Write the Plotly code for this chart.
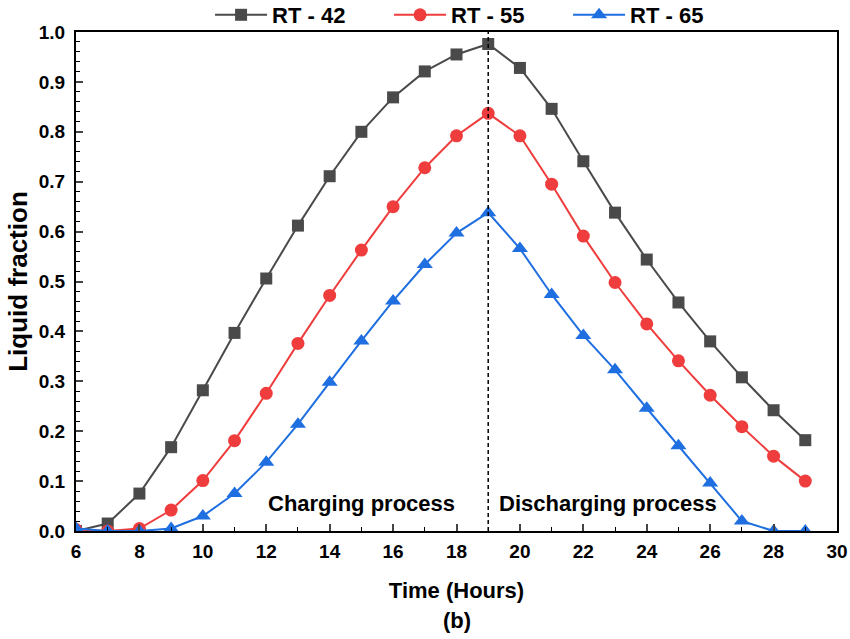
import plotly.graph_objects as go

hours = list(range(6, 30))
rt42 = [0.000, 0.015, 0.075, 0.168, 0.282, 0.397, 0.506, 0.612, 0.711, 0.800, 0.869, 0.921,
        0.955, 0.976, 0.928, 0.846, 0.741, 0.638, 0.544, 0.458, 0.380, 0.308, 0.242, 0.182]
rt55 = [0.003, 0.000, 0.005, 0.042, 0.101, 0.181, 0.276, 0.376, 0.472, 0.563, 0.650, 0.728,
        0.792, 0.837, 0.792, 0.695, 0.591, 0.498, 0.415, 0.341, 0.272, 0.209, 0.150, 0.100]
rt65 = [0.005, 0.000, 0.000, 0.005, 0.030, 0.075, 0.138, 0.214, 0.298, 0.381, 0.461, 0.534,
        0.597, 0.638, 0.566, 0.474, 0.392, 0.323, 0.246, 0.171, 0.096, 0.020, 0.000, 0.000]
series_names = ["RT - 42", "RT - 55", "RT - 65"]
x_ticks = list(range(6, 31, 2))
y_ticks = [round(i * 0.1, 1) for i in range(11)]
peak_hour = 19

FONT = "Liberation Sans, Arial, sans-serif"

fig = go.Figure()
styles = [
    (rt42, "#4a4a4a", "square", 12),
    (rt55, "#ef3d3d", "circle", 13),
    (rt65, "#1f6fe0", "triangle-up", 14),
]
for name, (vals, color, sym, size) in zip(series_names, styles):
    fig.add_trace(go.Scatter(
        x=hours, y=vals, name=name, mode="lines+markers",
        line=dict(color=color, width=2),
        marker=dict(symbol=sym, size=size, color=color),
    ))

fig.add_shape(type="line", x0=peak_hour, x1=peak_hour, y0=0, y1=1, xref="x", yref="y",
              line=dict(color="black", width=1.5, dash="4px,3px"))

fig.add_annotation(x=15.0, y=0.056, xref="x", yref="y", text="Charging process", showarrow=False,
                   font=dict(family=FONT, size=22, color="black", weight="bold"))
fig.add_annotation(x=22.79, y=0.056, xref="x", yref="y", text="Discharging process", showarrow=False,
                   font=dict(family=FONT, size=22, color="black", weight="bold"))
fig.add_annotation(x=0.5, y=0, xref="paper", yref="paper", yshift=-89, text="(b)", showarrow=False,
                   yanchor="middle",
                   font=dict(family=FONT, size=22, color="black", weight="bold"))

fig.update_xaxes(
    range=[6, 30], tickvals=x_ticks, ticks="inside", ticklen=7, tickwidth=1.5,
    showline=True, linecolor="black", linewidth=2, mirror=True, showgrid=False, zeroline=False,
    minor=dict(ticks="inside", ticklen=4, dtick=1, tickwidth=1.2, tickcolor="black"),
    tickfont=dict(family=FONT, size=19, color="black", weight="bold"),
    ticklabelstandoff=2,
    title=dict(text="Time (Hours)", standoff=22,
               font=dict(family=FONT, size=22, color="black", weight="bold")),
)
fig.update_yaxes(
    range=[0, 1.0], tickvals=y_ticks, tickformat=".1f", ticks="inside", ticklen=7, tickwidth=1.5,
    showline=True, linecolor="black", linewidth=2, mirror=True, showgrid=False, zeroline=False,
    minor=dict(ticks="inside", ticklen=4, dtick=0.02, tickwidth=1.2, tickcolor="black"),
    tickfont=dict(family=FONT, size=19, color="black", weight="bold"),
    ticklabelstandoff=5,
    title=dict(text="Liquid fraction", standoff=4,
               font=dict(family=FONT, size=26, color="black", weight="bold")),
)

fig.update_layout(
    width=850, height=639,
    margin=dict(l=76, r=13, t=32, b=108, autoexpand=False),
    plot_bgcolor="white", paper_bgcolor="white",
    showlegend=True,
    legend=dict(orientation="h", x=0.529, xanchor="center", y=0.992, yanchor="bottom",
                font=dict(family=FONT, size=22, color="black", weight="bold"),
                itemwidth=52, entrywidth=112, entrywidthmode="pixels",
                tracegroupgap=0, bgcolor="rgba(0,0,0,0)"),
)

fig.write_html("out.html")
